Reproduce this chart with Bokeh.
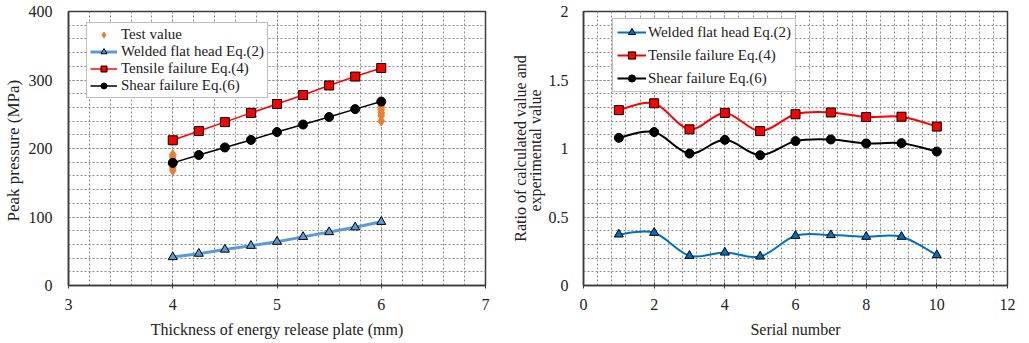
import numpy as np
from bokeh.plotting import figure
from bokeh.models import FixedTicker, Legend, LegendItem, Range1d, CustomJSTickFormatter
from bokeh.layouts import row
from bokeh.embed import file_html
from bokeh.resources import INLINE

# ---------------- data ----------------
thickness = [4, 4.25, 4.5, 4.75, 5, 5.25, 5.5, 5.75, 6]
welded_p = [41.5, 46.5, 52.5, 58, 64, 71, 78, 85, 93]
tensile_p = [212, 225.5, 238.5, 252, 265, 278, 292, 305, 317.5]
shear_p = [179, 190.5, 201.5, 212.5, 224, 235, 246, 257.5, 268.5]
test_x = [4, 4, 4, 4, 4, 6, 6, 6, 6, 6]
test_p = [168, 172, 184, 188, 191, 240, 248, 252, 257, 262]

serial = [1, 2, 3, 4, 5, 6, 7, 8, 9, 10]
welded_r = [0.373, 0.385, 0.217, 0.241, 0.212, 0.363, 0.368, 0.356, 0.356, 0.222]
tensile_r = [1.28, 1.33, 1.14, 1.26, 1.127, 1.25, 1.263, 1.23, 1.232, 1.16]
shear_r = [1.078, 1.12, 0.963, 1.063, 0.951, 1.054, 1.066, 1.037, 1.039, 0.978]

FONT = "Liberation Serif"
GRID = "#8a8a8a"
FRAME = "#3a3a3a"


def style(p, xt, xminor, yt, yminor, xlabel, ylabel):
    p.background_fill_color = "white"
    p.border_fill_color = "white"
    p.outline_line_color = FRAME
    p.outline_line_width = 1.5
    p.xaxis.ticker = FixedTicker(ticks=xt, minor_ticks=xminor)
    p.yaxis.ticker = FixedTicker(ticks=yt, minor_ticks=yminor)
    for g in (p.xgrid, p.ygrid):
        g.grid_line_color = GRID
        g.grid_line_dash = "2 2"
        g.grid_line_width = 1
        g.minor_grid_line_color = GRID
        g.minor_grid_line_dash = "2 2"
        g.minor_grid_line_width = 1
    for ax in (p.xaxis, p.yaxis):
        ax.axis_line_color = FRAME
        ax.axis_line_width = 1.5
        ax.minor_tick_line_color = None
        ax.major_label_text_font = FONT
        ax.major_label_text_font_size = "16px"
        ax.major_label_text_color = "#222222"
        ax.axis_label_text_font = FONT
        ax.axis_label_text_font_style = "normal"
        ax.axis_label_text_color = "#222222"
    p.xaxis.axis_label_text_font_size = "16px"
    p.yaxis.axis_label_text_font_size = "17px"
    p.xaxis.major_tick_line_color = FRAME
    p.xaxis.major_tick_in = 3
    p.xaxis.major_tick_out = 3
    p.xaxis.major_label_standoff = 9
    p.xaxis.axis_label_standoff = 8
    p.yaxis.major_tick_line_color = None
    p.yaxis.major_tick_in = 0
    p.yaxis.major_tick_out = 0
    p.xaxis.axis_label = xlabel
    p.yaxis.axis_label = ylabel


def smooth_segments(xs, ys):
    P = np.column_stack([np.asarray(xs, float), np.asarray(ys, float)])
    n = len(P)
    seg = dict(x0=[], y0=[], x1=[], y1=[], cx0=[], cy0=[], cx1=[], cy1=[])
    for i in range(n - 1):
        p0 = P[i - 1] if i > 0 else P[i]
        p1 = P[i]
        p2 = P[i + 1]
        p3 = P[i + 2] if i + 2 < n else P[i + 1]
        c1 = p1 + (p2 - p0) / 6.0
        c2 = p2 - (p3 - p1) / 6.0
        seg["x0"].append(p1[0]); seg["y0"].append(p1[1])
        seg["x1"].append(p2[0]); seg["y1"].append(p2[1])
        seg["cx0"].append(c1[0]); seg["cy0"].append(c1[1])
        seg["cx1"].append(c2[0]); seg["cy1"].append(c2[1])
    return seg


H = 341

# ---------------- left figure ----------------
p1 = figure(width=505, height=H, output_backend="svg", toolbar_location=None,
            x_range=Range1d(3, 7), y_range=Range1d(0, 400),
            min_border_left=68, min_border_right=20, min_border_top=11, min_border_bottom=56)
style(p1, [3, 4, 5, 6, 7], list(np.round(np.arange(3, 7.001, 0.2), 3)),
      [0, 100, 200, 300, 400], list(np.arange(0, 401, 20)),
      "Thickness of energy release plate (mm)", "Peak pressure  (MPa)")
p1.yaxis.major_label_standoff = 12
p1.yaxis.axis_label_standoff = 3

r_test = p1.scatter(test_x, test_p, marker="diamond", size=10, fill_color="#ED7D31",
                    line_color="#ED7D31")
l_w = p1.line(thickness, welded_p, line_color="#5B9BD5", line_width=3)
s_w = p1.scatter(thickness, welded_p, marker="triangle", size=9, fill_color="#5B9BD5",
                 line_color="black", line_width=1)
l_t = p1.line(thickness, tensile_p, line_color="#FF0000", line_width=1.5)
s_t = p1.scatter(thickness, tensile_p, marker="square", size=9, fill_color="#FF0000",
                 line_color="black", line_width=1)
l_s = p1.line(thickness, shear_p, line_color="black", line_width=1.5)
s_s = p1.scatter(thickness, shear_p, marker="circle", size=9, fill_color="black",
                 line_color="black")

leg1 = Legend(items=[
    LegendItem(label="Test value", renderers=[r_test]),
    LegendItem(label="Welded flat head Eq.(2)", renderers=[l_w, s_w]),
    LegendItem(label="Tensile failure Eq.(4)", renderers=[l_t, s_t]),
    LegendItem(label="Shear failure Eq.(6)", renderers=[l_s, s_s]),
], location=(18, 187))
leg1.label_text_font = FONT
leg1.label_text_font_size = "15px"
leg1.label_text_color = "#222222"
leg1.glyph_width = 27
leg1.glyph_height = 15
leg1.label_height = 15
leg1.spacing = 0
leg1.padding = 3
leg1.label_standoff = 4
leg1.border_line_color = "#808080"
leg1.border_line_width = 1.5
leg1.background_fill_alpha = 1
p1.add_layout(leg1, "center")

# ---------------- right figure ----------------
p2 = figure(width=524, height=H, output_backend="svg", toolbar_location=None,
            x_range=Range1d(0, 12), y_range=Range1d(0, 2),
            min_border_left=78, min_border_right=22, min_border_top=11, min_border_bottom=56)
style(p2, [0, 2, 4, 6, 8, 10, 12], list(np.round(np.arange(0, 12.001, 0.4), 3)),
      [0, 0.5, 1, 1.5, 2], list(np.round(np.arange(0, 2.001, 0.1), 3)),
      "Serial number", "Ratio of calculated value and\nexperimental  value")
p2.yaxis.formatter = CustomJSTickFormatter(code="return String(tick)")
p2.yaxis.major_label_standoff = 11
p2.yaxis.axis_label_standoff = 2
p2.yaxis.axis_label_text_font_size = "16px"
p2.yaxis.axis_label_text_line_height = 0.85

series = [
    ("Welded flat head Eq.(2)", welded_r, "#0070C0", "triangle", "#0070C0"),
    ("Tensile failure Eq.(4)", tensile_r, "#FF0000", "square", "#FF0000"),
    ("Shear failure Eq.(6)", shear_r, "black", "circle", "black"),
]
items2 = []
for label, vals, col, mk, fill in series:
    seg = smooth_segments(serial, vals)
    bz = p2.bezier(x0=seg["x0"], y0=seg["y0"], x1=seg["x1"], y1=seg["y1"],
                   cx0=seg["cx0"], cy0=seg["cy0"], cx1=seg["cx1"], cy1=seg["cy1"],
                   line_color=col, line_width=2)
    sc = p2.scatter(serial, vals, marker=mk, size=9, fill_color=fill,
                    line_color="black", line_width=1)
    items2.append(LegendItem(label=label, renderers=[bz, sc]))

leg2 = Legend(items=items2, location=(29, 193))
leg2.label_text_font = FONT
leg2.label_text_font_size = "15px"
leg2.label_text_color = "#222222"
leg2.glyph_width = 29
leg2.glyph_height = 18
leg2.label_height = 18
leg2.spacing = 5
leg2.padding = 4
leg2.label_standoff = 2
leg2.border_line_color = "#808080"
leg2.border_line_width = 1.5
leg2.background_fill_alpha = 1
p2.add_layout(leg2, "center")

layout = row(p1, p2)
open("out.html", "w").write(file_html(layout, INLINE))
